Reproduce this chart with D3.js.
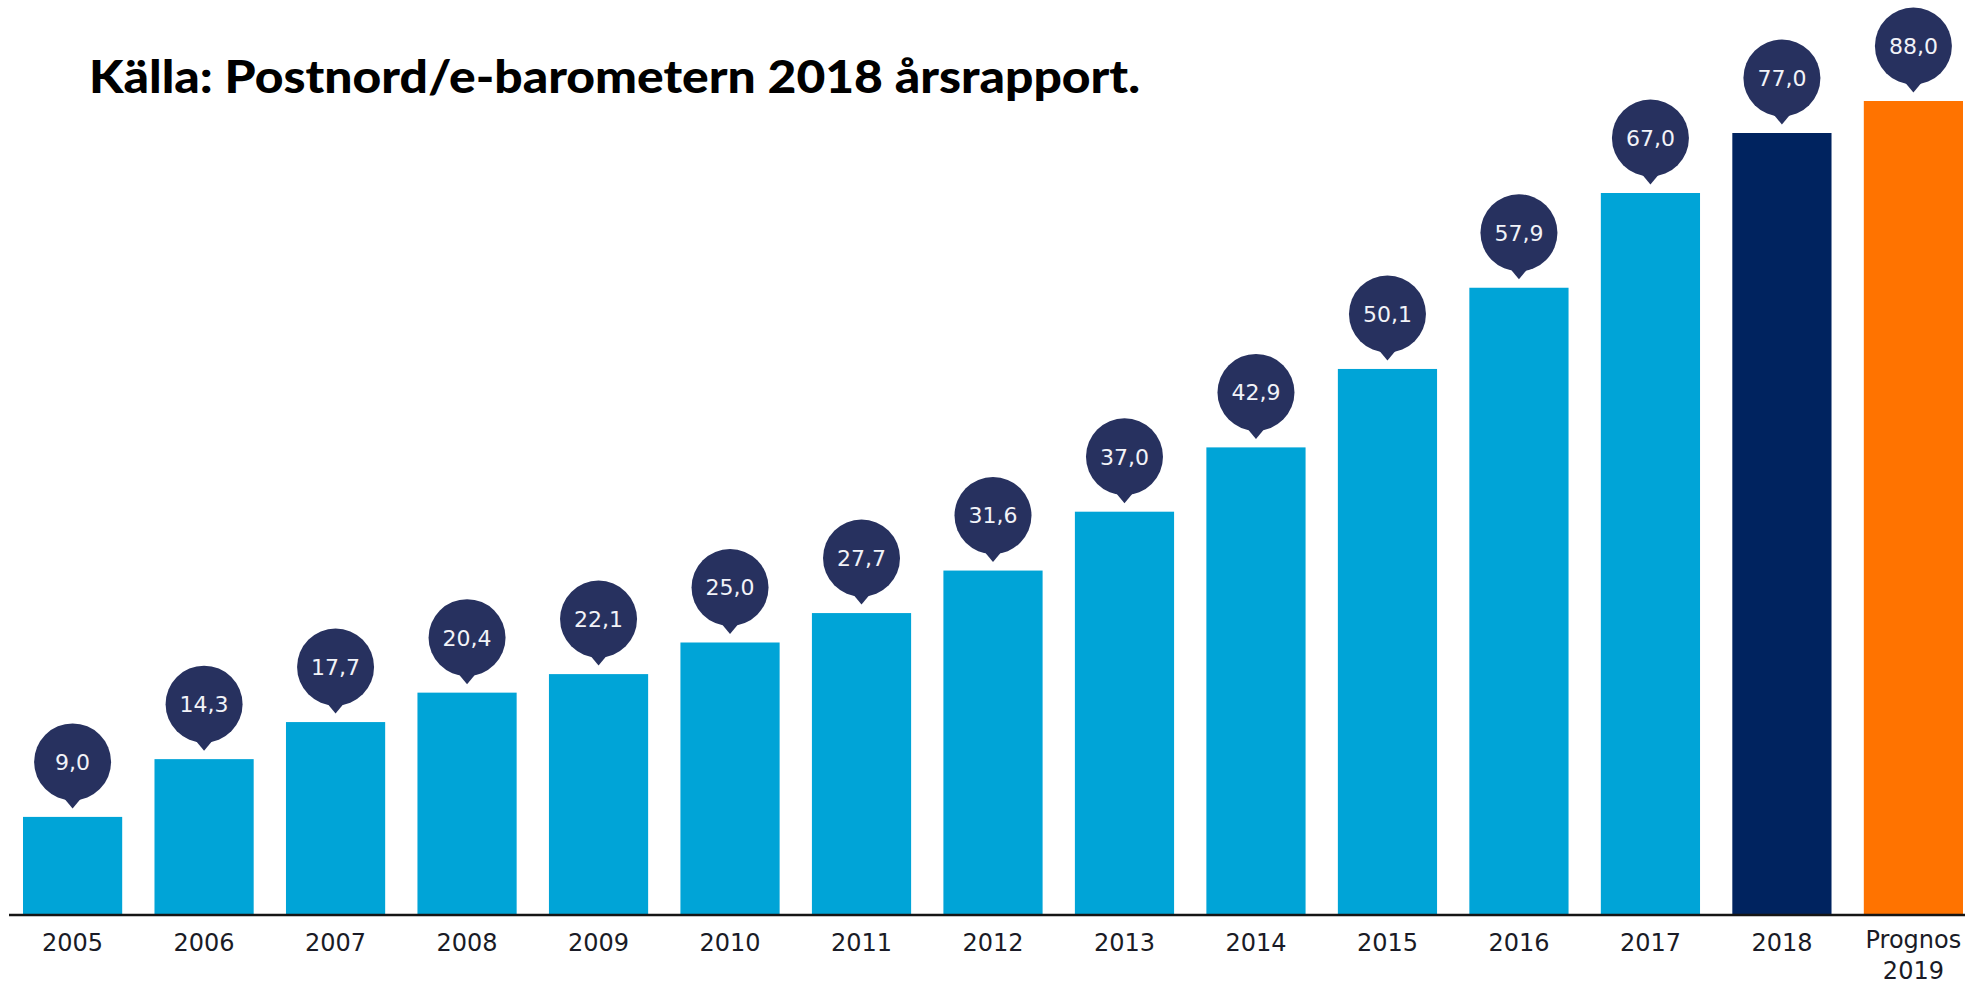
<!DOCTYPE html>
<html>
<head>
<meta charset="utf-8">
<script src="https://cdn.jsdelivr.net/npm/d3@7/dist/d3.min.js"></script>
<style>
  html, body { margin: 0; padding: 0; background: #ffffff; }
  svg { display: block; }
</style>
</head>
<body>
<script>
// ---- data ----
const categories = ["2005", "2006", "2007", "2008", "2009", "2010", "2011", "2012", "2013", "2014", "2015", "2016", "2017", "2018", "Prognos\n2019"];
const values = [9.0, 14.3, 17.7, 20.4, 22.1, 25.0, 27.7, 31.6, 37.0, 42.9, 50.1, 57.9, 67.0, 77.0, 88.0];
const barKinds = ["history", "history", "history", "history", "history", "history", "history", "history", "history", "history", "history", "history", "history", "current", "forecast"];
const titleText = "Källa: Postnord/e-barometern 2018 årsrapport.";

// ---- setup ----
const W = 1982, H = 984;
const svg = d3.select("body").append("svg").attr("width", W).attr("height", H);
svg.append("rect").attr("width", W).attr("height", H).attr("fill", "#ffffff");

const colors = { history: "#00a4d7", current: "#00235f", forecast: "#ff7300" };
const bubbleColor = "#27315f";

const x = d3.scaleBand().domain(categories).range([23, 1963]).paddingInner(0.2456).paddingOuter(0);
// the source graphic compresses the top of the value axis
const y = d3.scaleLinear().domain([0, 50, 67, 77, 88]).range([915, 370, 193, 133, 101]);

const fmt = d3.formatLocale({ decimal: ",", thousands: " ", grouping: [3], currency: ["", ""] }).format(".1f");

const data = categories.map((c, i) => ({ cat: c, value: values[i], kind: barKinds[i] }));

// bars
svg.append("g").selectAll("rect").data(data).join("rect")
  .attr("x", d => x(d.cat))
  .attr("y", d => y(d.value))
  .attr("width", x.bandwidth())
  .attr("height", d => y(0) - y(d.value))
  .attr("fill", d => colors[d.kind]);

// axis line
svg.append("line")
  .attr("x1", 9).attr("x2", 1965)
  .attr("y1", y(0)).attr("y2", y(0))
  .attr("stroke", "#151515").attr("stroke-width", 2.5);

// x labels
const xAxis = d3.axisBottom(x).tickSize(0).tickPadding(0);
const gx = svg.append("g").attr("transform", `translate(0,${y(0)})`).call(xAxis);
gx.select(".domain").remove();
gx.selectAll(".tick text").each(function(d) {
  const t = d3.select(this);
  const lines = d.split("\n");
  t.text(null)
    .attr("y", 0).attr("dy", null)
    .attr("font-family", "'DejaVu Sans', sans-serif")
    .attr("font-size", 24)
    .attr("fill", "#1a1b26");
  lines.forEach((ln, k) => {
    t.append("tspan").attr("x", 0).attr("y", (lines.length > 1 ? 33 : 36) + k * 31).text(ln);
  });
});

// bubbles
const R = 38.5;
const gb = svg.append("g").selectAll("g").data(data).join("g")
  .attr("transform", d => `translate(${x(d.cat) + x.bandwidth() / 2},${y(d.value) - 55})`);
gb.append("path")
  .attr("d", `M${-10},${R - 4} L0,${R + 8} L10,${R - 4} Z`)
  .attr("fill", bubbleColor);
gb.append("circle").attr("r", R).attr("fill", bubbleColor);
gb.append("text")
  .attr("text-anchor", "middle")
  .attr("dy", "0.36em")
  .attr("font-family", "'DejaVu Sans', sans-serif")
  .attr("font-size", 22)
  .attr("fill", "#f2f3f8")
  .text(d => fmt(d.value));

// title
svg.append("text")
  .attr("x", 89).attr("y", 93)
  .attr("font-family", "Lato, 'Open Sans', sans-serif")
  .attr("font-weight", 900)
  .attr("font-size", 46)
  .attr("fill", "#000")
  .attr("textLength", 1051)
  .attr("lengthAdjust", "spacingAndGlyphs")
  .text(titleText);
</script>
</body>
</html>
